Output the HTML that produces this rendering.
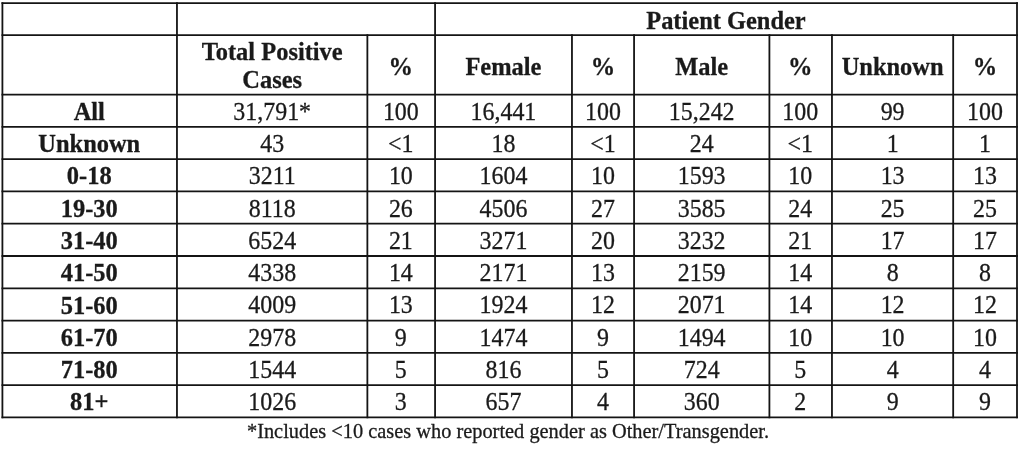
<!DOCTYPE html>
<html><head><meta charset="utf-8"><style>
html,body{margin:0;padding:0;background:#fff;width:1024px;height:457px;overflow:hidden;position:relative}
#w{position:absolute;left:0;top:0;width:1024px;height:457px;filter:grayscale(1)}
.l{position:absolute;background:#141414}
.t{position:absolute;text-align:center;font-family:"Liberation Serif",serif;color:#1a1a1a;white-space:nowrap;-webkit-text-stroke:0.3px #1a1a1a;transform:scaleX(0.92)}
.b{font-weight:bold;transform:scaleX(0.94)}
</style></head><body><div id="w">

<svg style="position:absolute;left:0;top:0" width="1024" height="457" viewBox="0 0 1024 457"><g stroke="#141414" stroke-width="1.8" fill="none"><path d="M1.51 3.06H1017.90"/><path d="M1.51 35.18H1017.90"/><path d="M1.51 94.59H1017.90"/><path d="M1.51 126.85H1017.90"/><path d="M1.51 159.14H1017.90"/><path d="M1.51 191.43H1017.90"/><path d="M1.51 223.72H1017.90"/><path d="M1.51 256.01H1017.90"/><path d="M1.51 288.30H1017.90"/><path d="M1.51 320.59H1017.90"/><path d="M1.51 352.88H1017.90"/><path d="M1.51 385.17H1017.90"/><path d="M1.51 417.46H1017.90"/><path d="M2.41 2.16V418.36"/><path d="M176.96 2.16V418.36"/><path d="M367.37 34.28V418.36"/><path d="M435.07 2.16V418.36"/><path d="M571.96 34.28V418.36"/><path d="M634.07 34.28V418.36"/><path d="M769.41 34.28V418.36"/><path d="M831.96 34.28V418.36"/><path d="M953.18 34.28V418.36"/><path d="M1017.00 2.16V418.36"/></g></svg>
<div class="t b" style="left:435.07px;top:5.16px;width:581.93px;height:32.12px;line-height:32.12px;font-size:26.00px">Patient Gender</div>
<div class="t b" style="left:176.96px;top:37.58px;width:190.41px;font-size:26px;line-height:28px">Total Positive<br>Cases</div>
<div class="t b" style="left:367.37px;top:37.48px;width:67.70px;height:59.41px;line-height:59.41px;font-size:26.00px">%</div>
<div class="t b" style="left:435.07px;top:37.48px;width:136.89px;height:59.41px;line-height:59.41px;font-size:26.00px">Female</div>
<div class="t b" style="left:571.96px;top:37.48px;width:62.11px;height:59.41px;line-height:59.41px;font-size:26.00px">%</div>
<div class="t b" style="left:634.07px;top:37.48px;width:135.34px;height:59.41px;line-height:59.41px;font-size:26.00px">Male</div>
<div class="t b" style="left:769.41px;top:37.48px;width:62.55px;height:59.41px;line-height:59.41px;font-size:26.00px">%</div>
<div class="t b" style="left:831.96px;top:37.48px;width:121.22px;height:59.41px;line-height:59.41px;font-size:26.00px">Unknown</div>
<div class="t b" style="left:953.18px;top:37.48px;width:63.82px;height:59.41px;line-height:59.41px;font-size:26.00px">%</div>
<div class="t b" style="left:2.41px;top:95.89px;width:174.55px;height:32.26px;line-height:32.26px;font-size:26.00px">All</div>
<div class="t" style="left:176.96px;top:95.69px;width:190.41px;height:32.26px;line-height:32.26px;font-size:26.00px">31,791*</div>
<div class="t" style="left:367.37px;top:95.69px;width:67.70px;height:32.26px;line-height:32.26px;font-size:26.00px">100</div>
<div class="t" style="left:435.07px;top:95.69px;width:136.89px;height:32.26px;line-height:32.26px;font-size:26.00px">16,441</div>
<div class="t" style="left:571.96px;top:95.69px;width:62.11px;height:32.26px;line-height:32.26px;font-size:26.00px">100</div>
<div class="t" style="left:634.07px;top:95.69px;width:135.34px;height:32.26px;line-height:32.26px;font-size:26.00px">15,242</div>
<div class="t" style="left:769.41px;top:95.69px;width:62.55px;height:32.26px;line-height:32.26px;font-size:26.00px">100</div>
<div class="t" style="left:831.96px;top:95.69px;width:121.22px;height:32.26px;line-height:32.26px;font-size:26.00px">99</div>
<div class="t" style="left:953.18px;top:95.69px;width:63.82px;height:32.26px;line-height:32.26px;font-size:26.00px">100</div>
<div class="t b" style="left:2.41px;top:128.15px;width:174.55px;height:32.29px;line-height:32.29px;font-size:26.00px">Unknown</div>
<div class="t" style="left:176.96px;top:127.95px;width:190.41px;height:32.29px;line-height:32.29px;font-size:26.00px">43</div>
<div class="t" style="left:367.37px;top:127.95px;width:67.70px;height:32.29px;line-height:32.29px;font-size:26.00px">&lt;1</div>
<div class="t" style="left:435.07px;top:127.95px;width:136.89px;height:32.29px;line-height:32.29px;font-size:26.00px">18</div>
<div class="t" style="left:571.96px;top:127.95px;width:62.11px;height:32.29px;line-height:32.29px;font-size:26.00px">&lt;1</div>
<div class="t" style="left:634.07px;top:127.95px;width:135.34px;height:32.29px;line-height:32.29px;font-size:26.00px">24</div>
<div class="t" style="left:769.41px;top:127.95px;width:62.55px;height:32.29px;line-height:32.29px;font-size:26.00px">&lt;1</div>
<div class="t" style="left:831.96px;top:127.95px;width:121.22px;height:32.29px;line-height:32.29px;font-size:26.00px">1</div>
<div class="t" style="left:953.18px;top:127.95px;width:63.82px;height:32.29px;line-height:32.29px;font-size:26.00px">1</div>
<div class="t b" style="left:2.41px;top:160.44px;width:174.55px;height:32.29px;line-height:32.29px;font-size:26.00px">0-18</div>
<div class="t" style="left:176.96px;top:160.24px;width:190.41px;height:32.29px;line-height:32.29px;font-size:26.00px">3211</div>
<div class="t" style="left:367.37px;top:160.24px;width:67.70px;height:32.29px;line-height:32.29px;font-size:26.00px">10</div>
<div class="t" style="left:435.07px;top:160.24px;width:136.89px;height:32.29px;line-height:32.29px;font-size:26.00px">1604</div>
<div class="t" style="left:571.96px;top:160.24px;width:62.11px;height:32.29px;line-height:32.29px;font-size:26.00px">10</div>
<div class="t" style="left:634.07px;top:160.24px;width:135.34px;height:32.29px;line-height:32.29px;font-size:26.00px">1593</div>
<div class="t" style="left:769.41px;top:160.24px;width:62.55px;height:32.29px;line-height:32.29px;font-size:26.00px">10</div>
<div class="t" style="left:831.96px;top:160.24px;width:121.22px;height:32.29px;line-height:32.29px;font-size:26.00px">13</div>
<div class="t" style="left:953.18px;top:160.24px;width:63.82px;height:32.29px;line-height:32.29px;font-size:26.00px">13</div>
<div class="t b" style="left:2.41px;top:192.73px;width:174.55px;height:32.29px;line-height:32.29px;font-size:26.00px">19-30</div>
<div class="t" style="left:176.96px;top:192.53px;width:190.41px;height:32.29px;line-height:32.29px;font-size:26.00px">8118</div>
<div class="t" style="left:367.37px;top:192.53px;width:67.70px;height:32.29px;line-height:32.29px;font-size:26.00px">26</div>
<div class="t" style="left:435.07px;top:192.53px;width:136.89px;height:32.29px;line-height:32.29px;font-size:26.00px">4506</div>
<div class="t" style="left:571.96px;top:192.53px;width:62.11px;height:32.29px;line-height:32.29px;font-size:26.00px">27</div>
<div class="t" style="left:634.07px;top:192.53px;width:135.34px;height:32.29px;line-height:32.29px;font-size:26.00px">3585</div>
<div class="t" style="left:769.41px;top:192.53px;width:62.55px;height:32.29px;line-height:32.29px;font-size:26.00px">24</div>
<div class="t" style="left:831.96px;top:192.53px;width:121.22px;height:32.29px;line-height:32.29px;font-size:26.00px">25</div>
<div class="t" style="left:953.18px;top:192.53px;width:63.82px;height:32.29px;line-height:32.29px;font-size:26.00px">25</div>
<div class="t b" style="left:2.41px;top:225.02px;width:174.55px;height:32.29px;line-height:32.29px;font-size:26.00px">31-40</div>
<div class="t" style="left:176.96px;top:224.82px;width:190.41px;height:32.29px;line-height:32.29px;font-size:26.00px">6524</div>
<div class="t" style="left:367.37px;top:224.82px;width:67.70px;height:32.29px;line-height:32.29px;font-size:26.00px">21</div>
<div class="t" style="left:435.07px;top:224.82px;width:136.89px;height:32.29px;line-height:32.29px;font-size:26.00px">3271</div>
<div class="t" style="left:571.96px;top:224.82px;width:62.11px;height:32.29px;line-height:32.29px;font-size:26.00px">20</div>
<div class="t" style="left:634.07px;top:224.82px;width:135.34px;height:32.29px;line-height:32.29px;font-size:26.00px">3232</div>
<div class="t" style="left:769.41px;top:224.82px;width:62.55px;height:32.29px;line-height:32.29px;font-size:26.00px">21</div>
<div class="t" style="left:831.96px;top:224.82px;width:121.22px;height:32.29px;line-height:32.29px;font-size:26.00px">17</div>
<div class="t" style="left:953.18px;top:224.82px;width:63.82px;height:32.29px;line-height:32.29px;font-size:26.00px">17</div>
<div class="t b" style="left:2.41px;top:257.31px;width:174.55px;height:32.29px;line-height:32.29px;font-size:26.00px">41-50</div>
<div class="t" style="left:176.96px;top:257.11px;width:190.41px;height:32.29px;line-height:32.29px;font-size:26.00px">4338</div>
<div class="t" style="left:367.37px;top:257.11px;width:67.70px;height:32.29px;line-height:32.29px;font-size:26.00px">14</div>
<div class="t" style="left:435.07px;top:257.11px;width:136.89px;height:32.29px;line-height:32.29px;font-size:26.00px">2171</div>
<div class="t" style="left:571.96px;top:257.11px;width:62.11px;height:32.29px;line-height:32.29px;font-size:26.00px">13</div>
<div class="t" style="left:634.07px;top:257.11px;width:135.34px;height:32.29px;line-height:32.29px;font-size:26.00px">2159</div>
<div class="t" style="left:769.41px;top:257.11px;width:62.55px;height:32.29px;line-height:32.29px;font-size:26.00px">14</div>
<div class="t" style="left:831.96px;top:257.11px;width:121.22px;height:32.29px;line-height:32.29px;font-size:26.00px">8</div>
<div class="t" style="left:953.18px;top:257.11px;width:63.82px;height:32.29px;line-height:32.29px;font-size:26.00px">8</div>
<div class="t b" style="left:2.41px;top:289.60px;width:174.55px;height:32.29px;line-height:32.29px;font-size:26.00px">51-60</div>
<div class="t" style="left:176.96px;top:289.40px;width:190.41px;height:32.29px;line-height:32.29px;font-size:26.00px">4009</div>
<div class="t" style="left:367.37px;top:289.40px;width:67.70px;height:32.29px;line-height:32.29px;font-size:26.00px">13</div>
<div class="t" style="left:435.07px;top:289.40px;width:136.89px;height:32.29px;line-height:32.29px;font-size:26.00px">1924</div>
<div class="t" style="left:571.96px;top:289.40px;width:62.11px;height:32.29px;line-height:32.29px;font-size:26.00px">12</div>
<div class="t" style="left:634.07px;top:289.40px;width:135.34px;height:32.29px;line-height:32.29px;font-size:26.00px">2071</div>
<div class="t" style="left:769.41px;top:289.40px;width:62.55px;height:32.29px;line-height:32.29px;font-size:26.00px">14</div>
<div class="t" style="left:831.96px;top:289.40px;width:121.22px;height:32.29px;line-height:32.29px;font-size:26.00px">12</div>
<div class="t" style="left:953.18px;top:289.40px;width:63.82px;height:32.29px;line-height:32.29px;font-size:26.00px">12</div>
<div class="t b" style="left:2.41px;top:321.89px;width:174.55px;height:32.29px;line-height:32.29px;font-size:26.00px">61-70</div>
<div class="t" style="left:176.96px;top:321.69px;width:190.41px;height:32.29px;line-height:32.29px;font-size:26.00px">2978</div>
<div class="t" style="left:367.37px;top:321.69px;width:67.70px;height:32.29px;line-height:32.29px;font-size:26.00px">9</div>
<div class="t" style="left:435.07px;top:321.69px;width:136.89px;height:32.29px;line-height:32.29px;font-size:26.00px">1474</div>
<div class="t" style="left:571.96px;top:321.69px;width:62.11px;height:32.29px;line-height:32.29px;font-size:26.00px">9</div>
<div class="t" style="left:634.07px;top:321.69px;width:135.34px;height:32.29px;line-height:32.29px;font-size:26.00px">1494</div>
<div class="t" style="left:769.41px;top:321.69px;width:62.55px;height:32.29px;line-height:32.29px;font-size:26.00px">10</div>
<div class="t" style="left:831.96px;top:321.69px;width:121.22px;height:32.29px;line-height:32.29px;font-size:26.00px">10</div>
<div class="t" style="left:953.18px;top:321.69px;width:63.82px;height:32.29px;line-height:32.29px;font-size:26.00px">10</div>
<div class="t b" style="left:2.41px;top:354.18px;width:174.55px;height:32.29px;line-height:32.29px;font-size:26.00px">71-80</div>
<div class="t" style="left:176.96px;top:353.98px;width:190.41px;height:32.29px;line-height:32.29px;font-size:26.00px">1544</div>
<div class="t" style="left:367.37px;top:353.98px;width:67.70px;height:32.29px;line-height:32.29px;font-size:26.00px">5</div>
<div class="t" style="left:435.07px;top:353.98px;width:136.89px;height:32.29px;line-height:32.29px;font-size:26.00px">816</div>
<div class="t" style="left:571.96px;top:353.98px;width:62.11px;height:32.29px;line-height:32.29px;font-size:26.00px">5</div>
<div class="t" style="left:634.07px;top:353.98px;width:135.34px;height:32.29px;line-height:32.29px;font-size:26.00px">724</div>
<div class="t" style="left:769.41px;top:353.98px;width:62.55px;height:32.29px;line-height:32.29px;font-size:26.00px">5</div>
<div class="t" style="left:831.96px;top:353.98px;width:121.22px;height:32.29px;line-height:32.29px;font-size:26.00px">4</div>
<div class="t" style="left:953.18px;top:353.98px;width:63.82px;height:32.29px;line-height:32.29px;font-size:26.00px">4</div>
<div class="t b" style="left:2.41px;top:386.47px;width:174.55px;height:32.29px;line-height:32.29px;font-size:26.00px">81+</div>
<div class="t" style="left:176.96px;top:386.27px;width:190.41px;height:32.29px;line-height:32.29px;font-size:26.00px">1026</div>
<div class="t" style="left:367.37px;top:386.27px;width:67.70px;height:32.29px;line-height:32.29px;font-size:26.00px">3</div>
<div class="t" style="left:435.07px;top:386.27px;width:136.89px;height:32.29px;line-height:32.29px;font-size:26.00px">657</div>
<div class="t" style="left:571.96px;top:386.27px;width:62.11px;height:32.29px;line-height:32.29px;font-size:26.00px">4</div>
<div class="t" style="left:634.07px;top:386.27px;width:135.34px;height:32.29px;line-height:32.29px;font-size:26.00px">360</div>
<div class="t" style="left:769.41px;top:386.27px;width:62.55px;height:32.29px;line-height:32.29px;font-size:26.00px">2</div>
<div class="t" style="left:831.96px;top:386.27px;width:121.22px;height:32.29px;line-height:32.29px;font-size:26.00px">9</div>
<div class="t" style="left:953.18px;top:386.27px;width:63.82px;height:32.29px;line-height:32.29px;font-size:26.00px">9</div>
<div class="t" style="left:-3px;top:419.2px;width:1022px;font-size:21px;line-height:24px;transform:scaleX(0.97)">*Includes &lt;10 cases who reported gender as Other/Transgender.</div>
</div></body></html>
